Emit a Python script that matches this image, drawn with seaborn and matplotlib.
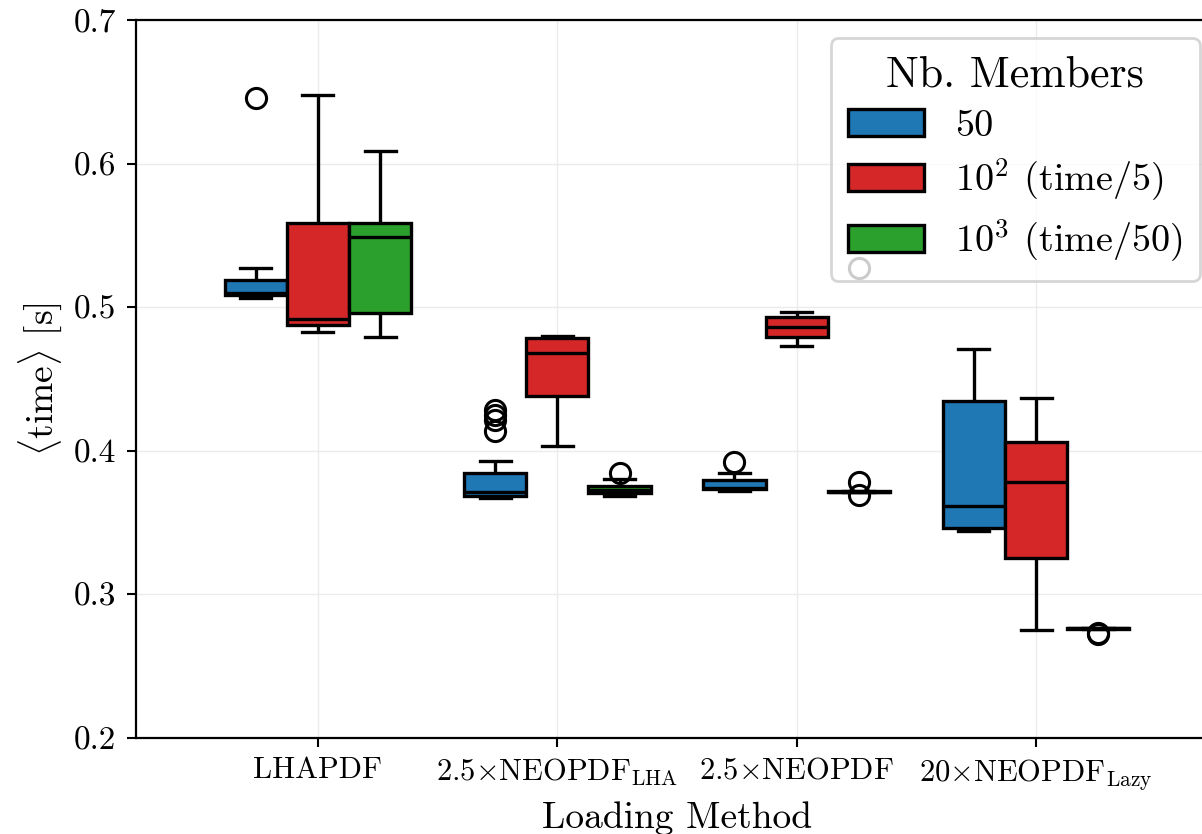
import matplotlib
matplotlib.use("Agg")
import matplotlib.pyplot as plt
import numpy as np
import pandas as pd
import seaborn as sns

# Loading methods (x categories)
methods = [
    "LHAPDF",
    r"$2.5{\times}\mathrm{NEOPDF}_{\mathrm{LHA}}$",
    r"$2.5{\times}\mathrm{NEOPDF}$",
    r"$20{\times}\mathrm{NEOPDF}_{\mathrm{Lazy}}$",
]

# Member-set sizes (hue levels)
members = ["50", r"$10^2$ (time/5)", r"$10^3$ (time/50)"]
colors = ["#1f77b4", "#d62728", "#2ca02c"]

# Mean loading times [s], 50 members
t50_lhapdf = [0.5066, 0.5075, 0.5083, 0.5092, 0.5101, 0.5150, 0.5189, 0.5271, 0.6459]
t50_lha = [0.3671, 0.3674, 0.3677, 0.3680, 0.3683, 0.3685, 0.3690, 0.3697, 0.3703,
           0.3709, 0.3715, 0.3730, 0.3755, 0.3785, 0.3815, 0.3848, 0.3927,
           0.4140, 0.4214, 0.4249, 0.4284]
t50_neopdf = [0.3722, 0.3727, 0.3732, 0.3737, 0.3742, 0.3770, 0.3797, 0.3843, 0.3924]
t50_lazy = [0.3442, 0.3455, 0.3465, 0.3540, 0.3618, 0.4000, 0.4347, 0.4500, 0.4709]

# Mean loading times [s], 100 members (divided by 5)
t100_lhapdf = [0.4830, 0.4850, 0.4876, 0.4900, 0.4918, 0.5300, 0.5589, 0.6000, 0.6478]
t100_lha = [0.4033, 0.4200, 0.4382, 0.4550, 0.4679, 0.4730, 0.4783, 0.4790, 0.4799]
t100_neopdf = [0.4730, 0.4760, 0.4790, 0.4830, 0.4865, 0.4900, 0.4930, 0.4950, 0.4969]
t100_lazy = [0.2750, 0.3000, 0.3251, 0.3550, 0.3785, 0.3950, 0.4059, 0.4200, 0.4366]

# Mean loading times [s], 1000 members (divided by 50)
t1000_lhapdf = [0.4790, 0.4880, 0.4962, 0.5300, 0.5487, 0.5550, 0.5589, 0.5800, 0.6090]
t1000_lha = [0.3685, 0.3697, 0.3708, 0.3720, 0.3730, 0.3742, 0.3755, 0.3801, 0.3848]
t1000_neopdf = [0.3695, 0.3713, 0.3714, 0.3715, 0.3716, 0.3716, 0.3717, 0.3717,
                0.3718, 0.3719, 0.3780, 0.5273]
t1000_lazy = [0.2724, 0.2732, 0.2761, 0.2762, 0.2763, 0.2764, 0.2764, 0.2765,
              0.2765, 0.2766, 0.2767, 0.2768]

series = {
    members[0]: [t50_lhapdf, t50_lha, t50_neopdf, t50_lazy],
    members[1]: [t100_lhapdf, t100_lha, t100_neopdf, t100_lazy],
    members[2]: [t1000_lhapdf, t1000_lha, t1000_neopdf, t1000_lazy],
}

rows = []
for mem, groups in series.items():
    for method, values in zip(methods, groups):
        for v in values:
            rows.append({"Loading Method": method, "Nb. Members": mem, "time": v})
df = pd.DataFrame(rows)

plt.rcParams.update({
    "font.family": "serif",
    "font.serif": ["cmr10"],
    "mathtext.fontset": "cm",
    "axes.formatter.use_mathtext": True,
    "axes.unicode_minus": False,
})

W, H = 1202, 834
fig = plt.figure(figsize=(W / 100, H / 100), dpi=100)
ax = fig.add_axes([136 / W, (H - 738) / H, (1218 - 136) / W, (738 - 20) / H])

sns.boxplot(
    data=df, x="Loading Method", y="time", hue="Nb. Members",
    order=methods, hue_order=members, palette=colors, saturation=1,
    width=0.78, gap=0, linewidth=2.4, linecolor="black",
    fliersize=14.5,
    flierprops=dict(marker="o", markerfacecolor="none",
                    markeredgecolor="black", markeredgewidth=2.2),
    ax=ax,
)

ax.set_xlim(-0.76, 3.76)
ax.set_ylim(0.2, 0.7)
yticks = np.arange(0.2, 0.71, 0.1)
ax.set_yticks(yticks)
ax.set_yticklabels([f"{v:.1f}" for v in yticks])

ax.grid(True, color="#ebebeb", linewidth=1)
ax.set_axisbelow(True)

for sp in ax.spines.values():
    sp.set_linewidth(1.6)
ax.tick_params(axis="both", which="major", length=6.5, width=1.5)
ax.tick_params(axis="y", labelsize=24, pad=8)
ax.tick_params(axis="x", labelsize=22, pad=7)

ax.set_xlabel("Loading Method", fontsize=27, labelpad=7)
ax.set_ylabel(r"$\langle\mathrm{time}\rangle$ [s]", fontsize=27, labelpad=7)

leg = ax.legend(
    title="Nb. Members", loc="upper right",
    bbox_to_anchor=(1200 / W, 1 - 38 / H), bbox_transform=fig.transFigure,
    borderaxespad=0, fontsize=27.5, title_fontsize=31.5, frameon=True,
    fancybox=True, framealpha=0.8, handlelength=2.0, handletextpad=0.8,
    labelspacing=0.36, borderpad=0.45,
)
leg.get_frame().set_edgecolor("#cccccc")
leg.get_frame().set_linewidth(2)

fig.savefig("out.png", dpi=100)
